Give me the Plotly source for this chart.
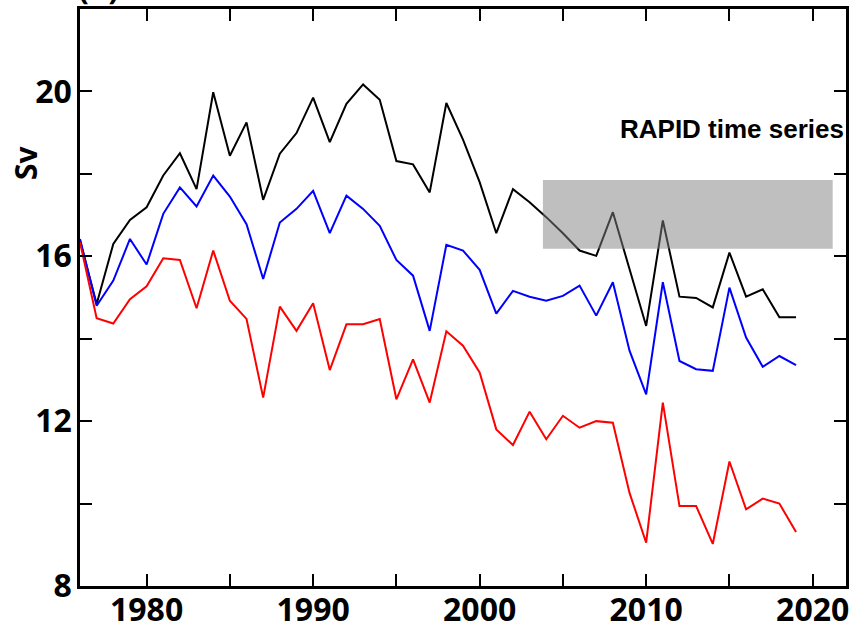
import plotly.graph_objects as go

years = list(range(1976, 2020))

black = [16.38, 14.84, 16.30, 16.88, 17.19, 17.96, 18.50, 17.63, 19.98, 18.44,
         19.25, 17.37, 18.49, 18.99, 19.85,
         18.77, 19.70, 20.17, 19.80, 18.31, 18.23, 17.55, 19.72, 18.83, 17.80,
         16.56, 17.63, 17.31, 16.95,
         16.56, 16.14, 16.01, 17.07, 15.70, 14.31, 16.87, 15.02, 14.99, 14.76,
         16.09, 15.02, 15.20, 14.52, 14.52]

blue = [16.42, 14.80, 15.41, 16.42, 15.80, 17.03, 17.67, 17.21, 17.96, 17.45,
        16.78, 15.45, 16.82, 17.15, 17.59,
        16.56, 17.47, 17.15, 16.74, 15.91, 15.53, 14.19, 16.28, 16.14, 15.67,
        14.61, 15.16, 15.02, 14.92,
        15.04, 15.29, 14.56, 15.37, 13.71, 12.65, 15.37, 13.46, 13.26, 13.22,
        15.24, 14.03, 13.32, 13.58, 13.36]

red = [16.34, 14.50, 14.37, 14.96, 15.27, 15.95, 15.91, 14.74, 16.14, 14.92,
       14.48, 12.57, 14.78, 14.19, 14.86,
       13.24, 14.35, 14.35, 14.48, 12.53, 13.50, 12.45, 14.18, 13.83, 13.18,
       11.80, 11.42, 12.23, 11.56,
       12.13, 11.84, 12.00, 11.96, 10.26, 9.05, 12.45, 9.94, 9.94, 9.02,
       11.02, 9.86, 10.12, 10.00, 9.31]

rapid_years = [2003.8, 2021.2]
rapid_range = [16.18, 17.85]

x_ticks = [1980, 1990, 2000, 2010, 2020]
y_ticks = [8, 12, 16, 20]

fig = go.Figure()
for vals, col in [(black, "#000000"), (blue, "#0000ff"), (red, "#ff0000")]:
    fig.add_trace(go.Scatter(x=years, y=vals, mode="lines",
                             line=dict(color=col, width=2), showlegend=False))

fig.add_shape(type="rect", xref="x", yref="y",
              x0=rapid_years[0], x1=rapid_years[1],
              y0=rapid_range[0], y1=rapid_range[1],
              fillcolor="#808080", opacity=0.5, line=dict(width=0),
              layer="above")

fig.add_annotation(text="RAPID time series", xref="x", yref="y",
                   x=2022, y=19.08, xanchor="right", yanchor="middle",
                   xshift=0, showarrow=False,
                   font=dict(family="Liberation Sans", size=26, color="black",
                             weight="bold"))

fig.add_annotation(text="(a)", xref="paper", yref="paper",
                   x=0.0248, y=1.039, xanchor="center", yanchor="middle",
                   showarrow=False,
                   font=dict(family="Open Sans", size=32, color="black",
                             weight="bold"))

fig.add_annotation(text="Sv", xref="paper", yref="paper",
                   x=-0.0705, y=0.735, xanchor="center", yanchor="middle",
                   textangle=-90, showarrow=False,
                   font=dict(family="Open Sans", size=30, color="black",
                             weight="bold"))

tickfont = dict(family="Open Sans", size=32, color="black", weight="bold")

fig.update_xaxes(range=[1976, 2022], tickvals=x_ticks,
                 ticktext=[str(v) for v in x_ticks],
                 ticks="inside", ticklen=12, tickwidth=2, tickcolor="black",
                 minor=dict(dtick=5, tick0=1975, ticks="inside", ticklen=12,
                            tickwidth=2, tickcolor="black"),
                 showline=True, linewidth=2.5, linecolor="black",
                 mirror="allticks", showgrid=False, zeroline=False,
                 tickfont=tickfont, ticklabelstandoff=-6, automargin=False)

fig.update_yaxes(range=[8, 22], tickvals=y_ticks,
                 ticktext=[str(v) for v in y_ticks],
                 ticks="inside", ticklen=12, tickwidth=2, tickcolor="black",
                 minor=dict(dtick=2, tick0=8, ticks="inside", ticklen=12,
                            tickwidth=2, tickcolor="black"),
                 showline=True, linewidth=2.5, linecolor="black",
                 mirror="allticks", showgrid=False, zeroline=False,
                 tickfont=tickfont, ticklabelstandoff=-1, automargin=False)

fig.update_layout(width=854, height=625,
                  margin=dict(l=80, r=8, t=9, b=39),
                  plot_bgcolor="white", paper_bgcolor="white")

fig.write_html("out.html", config={"displayModeBar": False},
               post_script="document.body.style.margin='0px';")
